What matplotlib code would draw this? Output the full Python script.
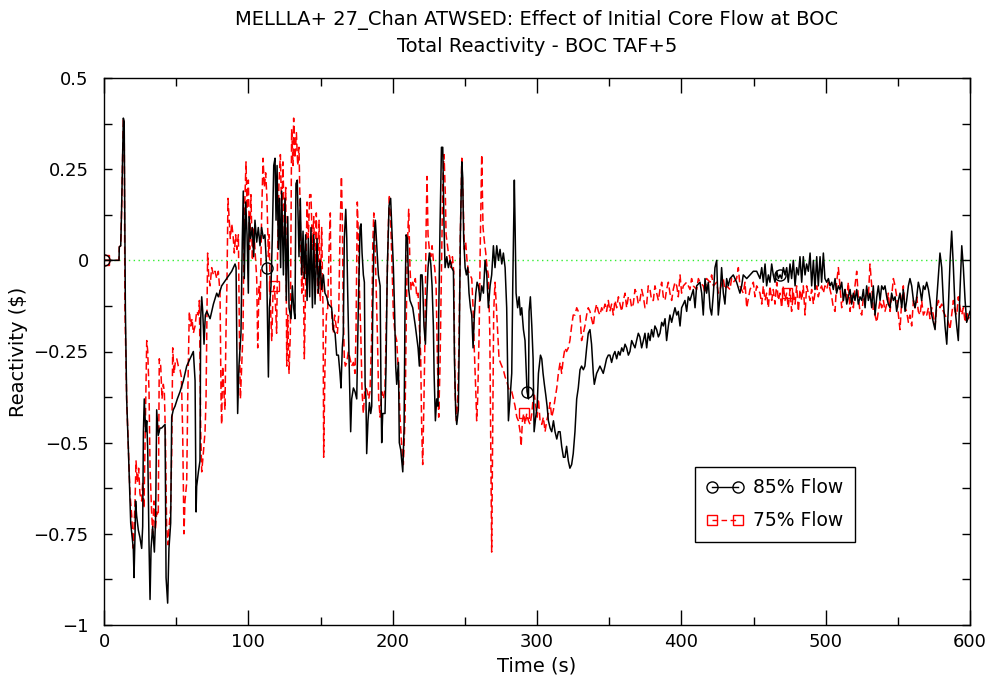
import numpy as np
import matplotlib
matplotlib.use("Agg")
import matplotlib.pyplot as plt
from matplotlib.lines import Line2D
from matplotlib.ticker import MultipleLocator, FixedLocator, FixedFormatter

# ---------------- data (time s, reactivity $) ----------------
flow85_a = [(0, 0), (10.4, 0), (10.6, 0.037), (11.6, 0.04), (12.2, 0.14), (12.9, 0.28), (13.4, 0.39),
            (14.0, 0.38), (14.8, -0.13), (15.7, -0.38), (16.9, -0.52), (18.5, -0.72),
            (20.3, -0.79), (20.8, -0.87), (21.5, -0.75), (21.9, -0.66), (22.6, -0.70), (23.8, -0.74),
            (24.9, -0.76), (26.1, -0.79), (26.8, -0.73), (27.3, -0.47), (27.9, -0.38), (28.9, -0.47),
            (29.6, -0.44), (30.3, -0.52), (31.2, -0.78), (31.9, -0.93), (32.6, -0.79), (33.7, -0.73),
            (34.9, -0.80), (35.8, -0.70), (36.5, -0.41), (37.6, -0.48), (38.8, -0.46), (39.9, -0.46),
            (42.3, -0.45), (43.0, -0.87), (44.1, -0.94), (45.0, -0.79), (46.2, -0.72), (46.9, -0.43),
            (48.0, -0.41), (49.2, -0.40), (50.8, -0.38), (52.7, -0.36), (55.0, -0.33), (57.3, -0.29),
            (59.6, -0.27), (61.9, -0.25), (63.1, -0.33), (63.8, -0.69), (64.2, -0.62), (65.4, -0.58),
            (66.5, -0.55), (67.0, -0.16), (67.7, -0.10), (68.4, -0.14), (69.3, -0.23), (70.2, -0.15),
            (71.2, -0.14), (73.5, -0.16), (75.8, -0.12), (78.1, -0.09)]
flow85_b = [(79.2, -0.10), (81.5, -0.07), (85.0, -0.05), (88.5, -0.03), (90.8, -0.01), (91.5, -0.02),
            (92.1, -0.26), (92.6, -0.42), (93.5, -0.29), (94.9, -0.20), (95.8, 0.05), (96.5, 0.19),
            (97.2, -0.05), (98.2, 0.16), (99.1, 0.07), (100.0, -0.09), (100.5, 0.12), (101.6, 0.06),
            (102.8, 0.09), (103.7, 0.01), (104.6, 0.11), (105.8, 0.05), (106.9, 0.09), (108.1, 0.04),
            (109.2, 0.09), (110.4, 0.06), (111.5, 0.07), (112.7, -0.02), (113.9, -0.32), (114.6, -0.13),
            (115.7, -0.07), (116.6, 0.06), (117.6, 0.26), (118.5, 0.28), (119.2, 0.11), (119.9, 0.26),
            (120.8, 0.03), (121.5, 0.17), (122.4, -0.02), (123.1, 0.19), (124.3, -0.04), (125.4, 0.17),
            (126.3, -0.11), (127.3, 0.12), (128.2, -0.13), (129.6, -0.16), (130.5, -0.07), (131.4, -0.13),
            (132.3, -0.16), (133.0, 0.21), (133.9, 0.22), (135.1, 0.01), (136.0, 0.17), (137.0, -0.04),
            (137.9, 0.08), (138.8, -0.05), (139.7, 0.07), (140.7, -0.11), (141.6, 0.06), (142.5, -0.10),
            (143.4, 0.09), (144.4, -0.13), (145.3, 0.07), (146.2, -0.12), (147.6, 0.06), (148.5, -0.09),
            (149.7, 0.00), (150.8, -0.08), (152.0, -0.04), (153.1, -0.09), (154.3, -0.10), (155.4, -0.12),
            (157.7, -0.13)]
flow85_c = [(158.9, -0.19), (160.1, -0.20), (161.2, -0.26), (162.4, -0.26), (163.5, -0.31), (164.2, -0.35),
            (165.1, -0.24), (165.8, -0.20), (166.5, 0.06), (167.5, 0.14), (168.2, 0.06), (168.8, -0.08),
            (169.5, -0.22), (170.0, -0.31), (170.9, -0.47), (171.6, -0.38), (172.8, -0.35), (173.9, -0.36),
            (175.1, -0.38), (176.2, -0.13), (177.4, 0.09), (178.1, 0.10), (178.8, 0.02), (179.7, -0.04),
            (180.4, -0.06), (180.9, -0.34), (181.5, -0.38), (182.0, -0.53), (182.9, -0.44), (183.9, -0.39),
            (184.8, -0.42), (185.5, -0.40), (186.2, -0.13), (187.1, 0.06), (188.0, 0.11), (189.0, 0.04),
            (190.1, -0.04), (191.3, -0.07), (191.9, -0.35), (192.4, -0.50), (193.1, -0.42), (194.7, -0.42),
            (195.4, -0.29), (196.3, -0.02), (197.5, 0.15), (198.6, 0.17), (199.6, 0.07), (200.5, -0.02),
            (201.4, -0.15), (202.1, -0.29), (202.8, -0.34), (204.0, -0.28), (204.6, -0.50), (205.6, -0.52),
            (206.3, -0.55), (207.0, -0.58), (207.9, -0.46), (208.6, -0.11), (209.3, 0.07), (210.2, 0.06),
            (211.1, -0.08), (212.0, -0.11), (213.9, -0.13), (215.7, -0.18), (217.6, -0.24), (218.5, -0.29),
            (219.4, -0.04), (220.4, -0.04), (220.8, -0.07), (221.7, -0.18), (222.7, -0.23), (223.6, -0.11),
            (224.5, -0.02), (225.4, 0.02), (226.4, -0.01), (227.3, -0.07), (228.2, -0.18), (228.7, -0.31),
            (229.6, -0.44), (230.5, -0.38), (231.4, -0.40), (231.9, -0.15), (232.8, 0.09), (233.8, 0.31),
            (234.7, 0.31), (235.6, 0.09), (236.3, -0.02)]
flow85_d = [(237.5, 0.01), (238.6, -0.02), (239.8, 0.00), (240.9, -0.02), (242.1, -0.03), (242.8, -0.27),
            (243.7, -0.42), (244.4, -0.45), (245.5, -0.41), (246.2, -0.20), (246.9, 0.07), (247.9, 0.27),
            (248.5, 0.23), (249.2, 0.06), (250.2, -0.02), (251.1, -0.04), (252.0, -0.02), (252.9, -0.09),
            (253.9, -0.13), (254.8, -0.15), (255.7, -0.24), (256.6, -0.15), (257.6, -0.09), (258.5, -0.06),
            (259.4, -0.07), (260.6, -0.11), (261.7, -0.07), (262.9, -0.09), (264.0, 0.00), (265.2, -0.04),
            (266.3, -0.13), (267.5, -0.07), (268.6, -0.04), (269.8, 0.04), (270.9, -0.02), (272.1, 0.04),
            (273.3, 0.00), (274.4, 0.03), (275.6, -0.01), (276.7, 0.02), (277.9, -0.02), (279.0, -0.13),
            (280.2, -0.44), (281.3, -0.38), (282.5, -0.31), (283.2, -0.07), (283.9, 0.11), (284.3, 0.22),
            (284.8, 0.10), (285.5, -0.09), (286.6, -0.13), (287.6, -0.10), (288.5, -0.15), (289.4, -0.13),
            (290.6, -0.19), (291.7, -0.22), (292.4, -0.29), (293.1, -0.36), (294.1, -0.38), (294.5, -0.14),
            (295.4, -0.10), (296.4, -0.18), (297.3, -0.27), (298.0, -0.47), (299.1, -0.43), (300.1, -0.40),
            (301.0, -0.31), (302.4, -0.26), (303.3, -0.27), (304.2, -0.31), (305.1, -0.34), (306.1, -0.37),
            (307.0, -0.40), (307.9, -0.44), (309.1, -0.46), (310.2, -0.47), (311.4, -0.44), (312.5, -0.47),
            (313.7, -0.49), (314.8, -0.47), (316.0, -0.47), (317.1, -0.51), (318.3, -0.54)]
flow85_e = [(319.4, -0.54), (320.5, -0.51), (321.7, -0.55), (322.8, -0.57), (324.0, -0.56), (325.1, -0.53),
            (326.3, -0.47), (327.5, -0.38), (328.6, -0.35), (329.8, -0.30), (330.9, -0.29), (332.1, -0.30),
            (333.2, -0.29), (334.4, -0.24), (335.5, -0.20), (336.7, -0.19), (337.8, -0.23), (339.0, -0.31),
            (339.7, -0.34), (341.3, -0.31), (342.5, -0.30), (343.6, -0.29), (344.8, -0.30), (345.9, -0.31),
            (347.1, -0.29), (348.2, -0.27), (349.4, -0.26), (350.5, -0.26), (351.7, -0.28), (352.9, -0.26),
            (354.0, -0.25), (355.2, -0.27), (356.4, -0.25), (357.5, -0.26), (358.7, -0.24), (359.8, -0.25),
            (361.0, -0.23), (362.1, -0.24), (363.3, -0.26), (364.4, -0.25), (365.6, -0.22), (366.7, -0.23),
            (367.9, -0.24), (369.0, -0.22), (370.2, -0.20), (371.3, -0.21), (372.5, -0.24), (373.7, -0.22),
            (374.8, -0.20), (376.0, -0.24), (377.1, -0.20), (378.3, -0.22), (379.4, -0.19), (380.6, -0.21),
            (381.7, -0.18), (382.9, -0.19), (384.1, -0.21), (385.2, -0.20), (386.4, -0.17), (387.5, -0.18),
            (388.7, -0.16), (389.8, -0.22), (391.0, -0.18), (392.1, -0.15), (393.3, -0.17), (394.4, -0.15),
            (395.6, -0.13), (396.8, -0.15), (397.9, -0.14), (399.1, -0.18), (400.2, -0.13),
            (401.4, -0.12), (402.5, -0.11), (403.7, -0.14), (404.8, -0.10), (406.0, -0.11), (408.3, -0.08),
            (409.5, -0.13), (410.6, -0.07), (412.9, -0.06), (414.1, -0.09), (415.2, -0.15), (416.4, -0.05),
            (417.5, -0.09), (418.7, -0.06), (419.9, -0.13), (421.0, -0.15), (422.2, -0.09), (423.3, -0.02),
            (424.5, 0.00), (425.6, -0.15), (426.8, -0.10), (427.9, -0.02), (429.1, -0.09), (430.2, -0.12),
            (431.4, -0.05), (432.5, -0.07), (433.7, -0.05), (436.0, -0.04), (438.3, -0.06), (440.6, -0.09),
            (441.8, -0.07), (442.9, -0.04), (445.3, -0.05), (447.6, -0.04), (449.9, -0.03), (452.2, -0.03),
            (454.5, -0.05)]
flow85_f = [(455.7, -0.02), (456.8, -0.06), (458.0, -0.01), (459.1, -0.07), (460.3, -0.04), (461.4, -0.06),
            (462.6, -0.01), (463.7, -0.04), (464.9, -0.06), (466.1, -0.03), (467.2, -0.05), (468.4, -0.04),
            (469.5, -0.05), (470.7, -0.02), (471.8, -0.04), (473.0, -0.02), (474.1, -0.06), (475.3, -0.01),
            (476.4, -0.05), (477.6, 0.00), (478.8, -0.07), (479.9, -0.02), (481.1, -0.04), (482.2, 0.01),
            (483.4, -0.06), (484.5, 0.01), (485.7, -0.04), (486.8, -0.01), (488.0, -0.03), (489.2, 0.02),
            (490.3, -0.07), (491.5, 0.00), (492.6, -0.08), (493.8, 0.01), (494.9, -0.07), (496.1, 0.01),
            (497.2, -0.06), (498.4, 0.02), (499.5, -0.05), (500.7, -0.06), (501.9, -0.05), (503.0, -0.07),
            (504.2, -0.06), (505.3, -0.08), (506.5, -0.05), (507.6, -0.09), (508.8, -0.07), (509.9, -0.08),
            (511.1, -0.06), (512.3, -0.11), (513.4, -0.08), (514.6, -0.12), (515.7, -0.10), (516.9, -0.08),
            (518.0, -0.12), (519.2, -0.09), (520.3, -0.11), (521.5, -0.08), (522.6, -0.12), (523.8, -0.10),
            (525.0, -0.11), (526.1, -0.08), (527.3, -0.13), (528.4, -0.07), (529.6, -0.11), (530.7, -0.09),
            (531.9, -0.13), (533.0, -0.07), (534.2, -0.15), (535.4, -0.10), (536.5, -0.07), (537.7, -0.11),
            (538.8, -0.07), (540.0, -0.08), (541.1, -0.07), (542.3, -0.10), (543.4, -0.12), (544.6, -0.13),
            (545.7, -0.09), (546.9, -0.11), (548.1, -0.10), (549.2, -0.14), (550.4, -0.11), (551.5, -0.09),
            (552.7, -0.13), (553.8, -0.08), (555.0, -0.14), (556.1, -0.11), (557.3, -0.07), (558.4, -0.05),
            (559.6, -0.07), (560.8, -0.11), (561.9, -0.13), (563.1, -0.10), (564.2, -0.06), (565.4, -0.08),
            (566.5, -0.11), (567.7, -0.07), (568.8, -0.08), (570.0, -0.06), (571.2, -0.08), (572.3, -0.11),
            (573.5, -0.15), (574.6, -0.17), (575.8, -0.19), (576.9, -0.11), (578.1, -0.04), (579.2, 0.02),
            (580.4, -0.02), (581.5, -0.11), (582.7, -0.18), (583.9, -0.23), (585.0, -0.13), (586.2, 0.00),
            (587.3, 0.08), (588.5, -0.02), (589.6, -0.13), (590.8, -0.18), (591.9, -0.22), (593.1, -0.08),
            (594.3, 0.04), (595.4, -0.02), (596.6, -0.11), (597.7, -0.17), (600.0, -0.14)]

flow75_a = [(0, 0), (10.4, 0), (10.6, 0.037), (11.6, 0.04), (12.2, 0.14), (12.9, 0.28), (13.4, 0.39),
            (14.0, 0.37), (14.5, -0.13), (15.7, -0.38), (16.9, -0.52), (18.0, -0.64),
            (19.2, -0.70), (20.3, -0.79), (21.5, -0.66), (22.2, -0.55), (23.1, -0.61), (24.0, -0.57),
            (24.9, -0.64), (26.1, -0.66), (26.8, -0.61), (27.7, -0.68), (28.6, -0.47), (29.6, -0.22),
            (30.3, -0.25), (31.2, -0.36), (31.9, -0.57), (33.0, -0.69), (33.7, -0.75), (34.6, -0.66),
            (35.6, -0.74), (36.5, -0.69), (37.6, -0.70), (38.3, -0.27), (39.3, -0.29), (40.2, -0.38),
            (41.1, -0.34), (41.8, -0.36), (42.5, -0.47), (43.4, -0.73), (44.4, -0.78), (45.3, -0.72),
            (46.2, -0.68), (46.9, -0.53), (47.6, -0.24), (48.5, -0.31), (49.4, -0.28), (50.4, -0.27),
            (51.5, -0.29), (52.7, -0.30), (53.6, -0.32), (54.5, -0.47), (55.4, -0.75), (56.1, -0.66),
            (57.3, -0.61), (58.0, -0.38), (59.1, -0.14), (60.1, -0.18), (61.0, -0.16), (61.9, -0.20),
            (63.1, -0.18), (64.2, -0.14), (65.4, -0.15), (66.1, -0.11), (67.0, -0.47), (67.7, -0.58),
            (68.8, -0.53), (70.0, -0.47), (70.7, -0.38), (71.2, -0.20), (71.8, 0.02), (72.5, -0.04),
            (73.5, -0.07), (74.6, -0.02), (75.8, -0.04), (76.9, -0.03)]
flow75_b = [(78.1, -0.05), (79.2, -0.03), (80.4, -0.09), (81.1, -0.38), (81.5, -0.45), (82.2, -0.29),
            (82.9, -0.35), (83.8, -0.41), (84.5, -0.20), (85.2, -0.06), (85.9, 0.17), (86.6, 0.12),
            (87.5, 0.06), (88.5, 0.10), (89.4, 0.07), (90.3, 0.02), (91.2, 0.07), (92.1, 0.03),
            (93.1, 0.07), (93.8, -0.20), (94.5, -0.38), (95.4, -0.29), (96.3, -0.20), (97.0, 0.07),
            (97.7, 0.18), (98.4, 0.27), (99.1, 0.14), (100.0, 0.22), (100.9, 0.03), (101.8, 0.18),
            (102.8, 0.00), (103.7, 0.09), (104.6, 0.03), (105.8, -0.05), (106.5, -0.24), (107.4, -0.07),
            (108.3, -0.11), (109.2, 0.12), (110.2, 0.28), (111.1, 0.20), (112.0, 0.24), (112.9, 0.17),
            (113.9, 0.01), (114.5, 0.07), (115.2, -0.11), (116.2, -0.22), (117.1, -0.09), (118.0, -0.07),
            (118.9, -0.13), (119.6, -0.20), (120.3, 0.03), (121.2, 0.21), (122.2, 0.29), (123.1, 0.12),
            (124.0, 0.27), (125.0, 0.06), (125.9, 0.20), (126.6, -0.29), (127.3, -0.15), (128.2, -0.31),
            (129.1, -0.20), (130.0, 0.36), (131.0, 0.26), (131.4, 0.39), (132.3, 0.28), (133.3, 0.35),
            (134.2, 0.26), (135.1, 0.31), (136.0, 0.11), (137.0, -0.09), (137.9, 0.03), (138.8, -0.27),
            (139.7, -0.06), (140.7, 0.16), (141.6, 0.06), (142.5, 0.18), (143.4, 0.18), (144.4, 0.03),
            (145.3, 0.12), (146.2, -0.02), (147.1, 0.13), (148.1, -0.09), (149.0, 0.11), (149.9, -0.11),
            (150.8, 0.09), (151.8, -0.15), (152.2, -0.54), (153.1, -0.29), (154.1, -0.15), (155.0, -0.13),
            (155.9, 0.03), (156.8, 0.13)]
flow75_c = [(157.3, -0.11), (158.0, -0.16), (158.9, -0.20), (159.8, -0.15), (160.8, -0.18), (161.7, -0.20),
            (162.6, -0.15), (163.5, 0.07), (164.5, 0.23), (165.1, 0.12), (165.8, -0.15), (166.5, -0.27),
            (167.2, -0.29), (168.2, -0.28), (169.3, -0.25), (170.5, -0.27), (171.6, -0.29), (172.8, -0.28),
            (173.9, -0.31), (174.6, -0.20), (175.5, 0.16), (176.2, 0.07), (176.9, -0.07), (177.9, -0.20),
            (178.8, -0.36), (179.7, -0.42), (180.6, -0.36), (181.5, -0.35), (182.5, -0.36), (183.4, -0.38),
            (184.3, -0.36), (185.5, -0.20), (186.2, 0.04), (186.9, 0.13), (187.6, 0.07), (188.5, -0.07),
            (189.4, -0.20), (190.3, -0.38), (191.3, -0.43), (192.4, -0.36), (193.6, -0.38), (194.7, -0.35),
            (195.9, -0.11), (197.0, 0.09), (197.7, 0.18), (198.6, 0.11), (199.6, -0.02), (200.5, -0.15),
            (201.6, -0.20), (202.8, -0.22), (204.0, -0.31), (205.1, -0.43), (206.3, -0.51), (207.4, -0.56),
            (208.6, -0.43), (209.3, -0.20), (210.2, 0.04), (211.1, 0.14), (212.0, -0.02), (212.7, -0.08),
            (213.9, -0.06), (214.8, -0.07), (215.7, -0.05), (216.7, -0.10), (217.6, -0.09), (218.5, -0.18),
            (219.4, -0.26), (220.1, -0.46), (220.8, -0.56), (221.7, -0.38), (222.4, -0.20), (223.1, 0.07),
            (223.8, 0.23), (224.5, 0.07), (225.4, 0.03), (226.4, 0.01), (227.3, 0.04), (228.2, 0.00),
            (229.1, -0.02), (230.1, -0.07), (231.0, -0.27), (231.9, -0.43), (232.8, -0.29), (233.8, -0.02),
            (234.7, 0.21), (235.6, 0.29), (236.5, 0.18)]
flow75_d = [(237.0, 0.07), (237.7, 0.05), (238.6, 0.02), (239.5, 0.01), (240.5, -0.02), (241.4, 0.01),
            (242.3, -0.03), (243.2, -0.36), (244.2, -0.44), (245.1, -0.38), (246.0, -0.22), (246.9, 0.07),
            (247.9, 0.28), (248.8, 0.17), (249.7, 0.03), (250.6, 0.05), (251.5, 0.00), (252.5, -0.03),
            (253.6, -0.04), (254.8, -0.05), (255.7, -0.13), (256.6, -0.25), (257.6, -0.36), (258.2, -0.44),
            (258.9, -0.38), (259.9, -0.20), (260.8, 0.07), (261.7, 0.29), (262.6, 0.09), (263.6, 0.05),
            (264.5, 0.02), (265.4, -0.02), (266.3, -0.04), (267.3, -0.20), (267.9, -0.47), (268.6, -0.80),
            (269.3, -0.47), (270.0, -0.14), (270.9, -0.06), (271.9, -0.13), (272.8, -0.20), (273.7, -0.27),
            (274.6, -0.28), (275.6, -0.29), (276.7, -0.30), (277.9, -0.32), (279.0, -0.33), (280.2, -0.35),
            (281.3, -0.36), (282.5, -0.36), (283.7, -0.38), (284.8, -0.40), (286.0, -0.43), (287.1, -0.44),
            (288.3, -0.47), (289.0, -0.51), (289.9, -0.44), (290.8, -0.42), (291.7, -0.45), (292.9, -0.42),
            (294.1, -0.44), (295.2, -0.45), (296.4, -0.42), (297.3, -0.38), (298.2, -0.37), (299.1, -0.40),
            (300.1, -0.43), (301.0, -0.38), (302.1, -0.44), (303.3, -0.45), (304.4, -0.43), (305.6, -0.47),
            (306.7, -0.44), (307.9, -0.42), (309.1, -0.39), (310.2, -0.43), (311.4, -0.41), (312.5, -0.38),
            (313.7, -0.35), (314.8, -0.31), (316.0, -0.28)]
flow75_e = [(317.1, -0.31), (318.2, -0.27), (319.4, -0.24), (320.5, -0.25), (321.7, -0.24), (322.8, -0.22),
            (324.0, -0.18), (325.1, -0.15), (326.3, -0.15), (327.5, -0.13), (328.6, -0.14), (329.8, -0.15),
            (330.9, -0.22), (332.1, -0.20), (333.2, -0.18), (334.4, -0.15), (335.5, -0.13), (336.7, -0.14),
            (337.8, -0.16), (339.0, -0.18), (340.2, -0.14), (341.3, -0.12), (342.5, -0.14), (343.6, -0.15),
            (344.8, -0.13), (345.9, -0.14), (347.1, -0.12), (348.2, -0.14), (349.4, -0.11), (350.5, -0.14),
            (351.7, -0.12), (352.9, -0.15), (354.0, -0.11), (355.2, -0.13), (356.4, -0.10), (357.5, -0.12),
            (358.7, -0.14), (359.8, -0.11), (361.0, -0.09), (362.1, -0.13), (363.3, -0.10), (364.4, -0.10),
            (365.6, -0.13), (366.7, -0.12), (367.9, -0.08), (369.0, -0.09), (370.2, -0.12), (371.3, -0.11),
            (372.5, -0.08), (373.7, -0.10), (374.8, -0.13), (376.0, -0.12), (377.1, -0.07), (378.3, -0.08),
            (379.4, -0.11), (380.6, -0.11), (381.7, -0.07), (382.9, -0.09), (384.1, -0.11), (385.2, -0.08),
            (386.4, -0.06), (387.5, -0.10), (388.7, -0.11), (389.8, -0.08), (391.0, -0.06), (392.1, -0.09),
            (393.3, -0.11), (394.4, -0.08), (395.6, -0.06), (396.8, -0.07), (397.9, -0.10), (399.1, -0.04),
            (400.2, -0.09), (401.4, -0.07), (403.7, -0.06), (406.0, -0.08), (407.1, -0.05), (408.3, -0.07),
            (410.6, -0.08), (411.8, -0.05), (412.9, -0.06), (415.2, -0.07), (416.4, -0.09), (417.5, -0.05),
            (419.9, -0.06), (421.0, -0.04), (422.2, -0.07), (424.5, -0.06), (425.6, -0.09), (426.8, -0.08),
            (429.1, -0.05), (430.2, -0.08), (431.4, -0.07), (433.7, -0.08), (434.8, -0.05), (436.0, -0.06),
            (438.3, -0.05), (439.5, -0.02), (440.6, -0.07), (442.9, -0.09), (444.1, -0.06), (445.3, -0.13),
            (447.6, -0.08), (449.9, -0.06), (451.0, -0.10), (452.2, -0.07), (454.5, -0.09)]
flow75_f = [(455.7, -0.12), (456.8, -0.07), (458.0, -0.11), (459.1, -0.09), (460.3, -0.13), (461.4, -0.07),
            (462.6, -0.11), (463.7, -0.08), (464.9, -0.12), (466.1, -0.06), (467.2, -0.11), (468.4, -0.09),
            (469.5, -0.13), (470.7, -0.07), (471.8, -0.11), (473.0, -0.09), (474.1, -0.13), (475.3, -0.08),
            (476.4, -0.14), (477.6, -0.09), (478.8, -0.12), (479.9, -0.07), (481.1, -0.14), (482.2, -0.08),
            (483.4, -0.11), (484.5, -0.07), (485.7, -0.15), (486.8, -0.07), (488.0, -0.09), (489.2, -0.11),
            (490.3, -0.08), (491.5, -0.12), (492.6, -0.09), (493.8, -0.07), (494.9, -0.10), (496.1, -0.08),
            (497.2, -0.07), (498.4, -0.09), (499.5, -0.07), (500.7, -0.08), (501.9, -0.06), (503.0, -0.08),
            (504.2, -0.10), (505.3, -0.13), (506.5, -0.14), (507.6, -0.06), (508.8, -0.02), (509.9, -0.07),
            (511.1, -0.13), (512.3, -0.10), (513.4, -0.08), (514.6, -0.11), (515.7, -0.06), (516.9, -0.14),
            (518.0, -0.09), (519.2, -0.13), (520.3, -0.07), (521.5, -0.03), (522.6, -0.10), (523.8, -0.14),
            (525.0, -0.15), (526.1, -0.10), (527.3, -0.11), (528.4, -0.08), (529.6, -0.10), (530.7, -0.01),
            (531.9, -0.07), (533.0, -0.14), (534.2, -0.15), (535.4, -0.17), (536.5, -0.14), (537.7, -0.11),
            (538.8, -0.13), (540.0, -0.11), (541.1, -0.14), (542.3, -0.12), (543.4, -0.09), (544.6, -0.14),
            (545.7, -0.10), (546.9, -0.05), (548.1, -0.07), (549.2, -0.10), (550.4, -0.15), (551.5, -0.19),
            (552.7, -0.11), (553.8, -0.07), (555.0, -0.13), (556.1, -0.14), (557.3, -0.17), (558.4, -0.15),
            (559.6, -0.18), (560.8, -0.11), (561.9, -0.13), (563.1, -0.10), (564.2, -0.14), (565.4, -0.15),
            (566.5, -0.11), (567.7, -0.15), (568.8, -0.14), (570.0, -0.15), (571.2, -0.13), (572.3, -0.16),
            (573.5, -0.13), (574.6, -0.15), (575.8, -0.18), (576.9, -0.13), (578.1, -0.11), (579.2, -0.13),
            (580.4, -0.12), (581.5, -0.14), (582.7, -0.15), (583.9, -0.16), (585.0, -0.17), (586.1, -0.19),
            (587.3, -0.15), (588.5, -0.11), (589.6, -0.14), (590.8, -0.15), (591.9, -0.10), (593.1, -0.13),
            (594.3, -0.15), (595.4, -0.13), (596.6, -0.17), (597.7, -0.14), (598.9, -0.16), (600.0, -0.15)]

marker_times_85 = [0, 112.7, 293.1, 468.4]
marker_times_75 = [0, 118.0, 290.8, 473.0]

series_labels = ["85% Flow", "75% Flow"]
title_lines = ["MELLLA+ 27_Chan ATWSED: Effect of Initial Core Flow at BOC",
               "Total Reactivity - BOC TAF+5"]
y_tick_values = [-1, -0.75, -0.5, -0.25, 0, 0.25, 0.5]
y_tick_labels = ["\u22121", "\u22120.75", "\u22120.5", "\u22120.25", "0", "0.25", "0.5"]
x_tick_values = [0, 100, 200, 300, 400, 500, 600]

# ---------------- build arrays ----------------
d85 = np.array(flow85_a + flow85_b + flow85_c + flow85_d + flow85_e + flow85_f)
d75 = np.array(flow75_a + flow75_b + flow75_c + flow75_d + flow75_e + flow75_f)
t85, r85 = d85[:, 0], d85[:, 1]
t75, r75 = d75[:, 0], d75[:, 1]
mk85 = [int(np.argmin(np.abs(t85 - m))) for m in marker_times_85]
mk75 = [int(np.argmin(np.abs(t75 - m))) for m in marker_times_75]

RED = "#ff0000"

# ---------------- figure ----------------
W, H = 991, 693
fig = plt.figure(figsize=(W / 100, H / 100), dpi=100)
ax = fig.add_axes([104 / W, 1 - 625 / H, (970 - 104) / W, (625 - 78) / H])

ax.axhline(0, color="#33ee33", lw=1.0, ls=(0, (1, 2.5)), zorder=1)

ax.plot(t75, r75, color=RED, lw=1.1, ls=(0, (5, 2.5)),
        marker="s", markevery=mk75, ms=7, mfc="none", mec=RED, mew=1.0, zorder=2)
ax.plot(t85, r85, color="black", lw=1.1, ls="-",
        marker="o", markevery=mk85, ms=8, mfc="none", mec="black", mew=1.0, zorder=3)

ax.set_xlim(0, 600)
ax.set_ylim(-1, 0.5)
ax.xaxis.set_major_locator(FixedLocator(x_tick_values))
ax.xaxis.set_minor_locator(MultipleLocator(50))
ax.yaxis.set_major_locator(FixedLocator(y_tick_values))
ax.yaxis.set_major_formatter(FixedFormatter(y_tick_labels))
ax.yaxis.set_minor_locator(MultipleLocator(0.125))
ax.tick_params(which="both", direction="in", top=True, right=True, labelsize=13, width=1.0)
ax.tick_params(axis="x", which="major", length=11, pad=6)
ax.tick_params(axis="x", which="minor", length=6)
ax.tick_params(axis="y", which="major", length=6, pad=11)
ax.tick_params(axis="y", which="minor", length=6)
for s in ax.spines.values():
    s.set_linewidth(1.0)

ax.set_xlabel("Time (s)", fontsize=14, labelpad=4)
ax.set_ylabel("Reactivity ($)", fontsize=14, labelpad=4)

cx = (104 + 970) / 2 / W
fig.text(cx, 1 - 20 / H, title_lines[0], ha="center", va="center", fontsize=14)
fig.text(cx, 1 - 47 / H, title_lines[1], ha="center", va="center", fontsize=14)

h85 = Line2D([], [], color="black", lw=1.0, marker="o", ms=8, mfc="none", mec="black")
h75 = Line2D([], [], color=RED, lw=1.0, ls=(0, (4, 2.5)), marker="s", ms=7,
             mfc="none", mec=RED)
leg = ax.legend([h85, h75], series_labels, loc="upper left",
                bbox_to_anchor=((695 - 104) / 866, (625 - 467) / 547),
                fontsize=13.5, numpoints=2, handlelength=2.0, handletextpad=0.5,
                borderpad=0.6, labelspacing=0.75, borderaxespad=0,
                fancybox=False, framealpha=1, edgecolor="black")
leg.get_frame().set_linewidth(1.0)

fig.savefig("out.png", dpi=100)
